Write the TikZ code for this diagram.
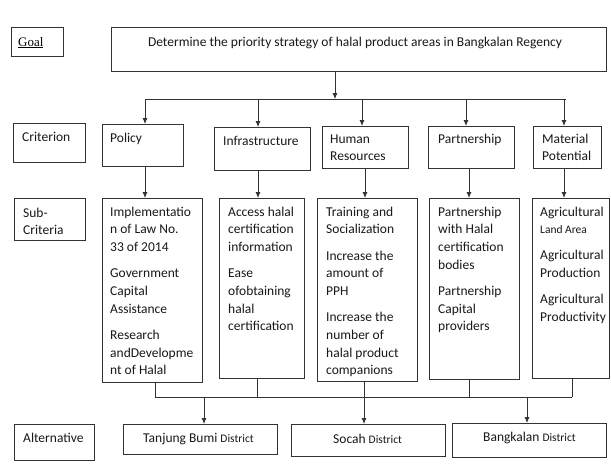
\documentclass[tikz,border=0pt]{standalone}
\usepackage{fontspec}
\setmainfont{Carlito}
\newfontfamily\goalfont{Liberation Serif}
\usetikzlibrary{arrows.meta,calc}
\newcommand{\smallpart}[1]{{\fontsize{11.5}{17.7}\selectfont #1}}
\tikzset{
  box/.style={draw=black!80, line width=0.8pt, anchor=north west, inner sep=0pt},
  txt/.style={anchor=north west, inner sep=0pt, align=left, font=\fontsize{13.5}{17.7}\selectfont, text=black!90},
  ltxt/.style={anchor=base west, inner sep=0pt, font=\fontsize{13.5}{17.7}\selectfont, text=black!90},
  link/.style={draw=black!80, line width=0.8pt},
  arr/.style={link, -{Latex[length=6pt,width=5pt]}},
}
\begin{document}
\begin{tikzpicture}[x=1pt,y=-1pt]
\useasboundingbox[fill=white] (0,0) rectangle (611,472);

% ---- boxes ----
\node[box, minimum width=52pt, minimum height=29pt] (goalL) at (11,27) {};
\node[box, minimum width=495pt, minimum height=44pt] (goal) at (111,27) {};
\node[box, minimum width=72pt, minimum height=39pt] (critL) at (13,123) {};
\node[box, minimum width=81pt, minimum height=42pt] (pol) at (102,124) {};
\node[box, minimum width=96pt, minimum height=43pt] (inf) at (214,127) {};
\node[box, minimum width=86pt, minimum height=42pt] (hr) at (322,126) {};
\node[box, minimum width=86pt, minimum height=42pt] (par) at (428,126) {};
\node[box, minimum width=68pt, minimum height=42pt] (mp) at (533,126) {};
\node[box, minimum width=71pt, minimum height=42pt] (subL) at (14,198) {};
\node[box, minimum width=100pt, minimum height=184pt] (polS) at (102,198) {};
\node[box, minimum width=85pt, minimum height=180pt] (infS) at (219,198) {};
\node[box, minimum width=100pt, minimum height=183pt] (hrS) at (317,198) {};
\node[box, minimum width=90pt, minimum height=181pt] (parS) at (429,198) {};
\node[box, minimum width=77pt, minimum height=180pt] (mpS) at (532,198) {};
\node[box, minimum width=80pt, minimum height=36pt] (altL) at (14,424) {};
\node[box, minimum width=154pt, minimum height=30pt] (tb) at (123,424) {};
\node[box, minimum width=154pt, minimum height=32pt] (so) at (291,424) {};
\node[box, minimum width=154pt, minimum height=34pt] (bk) at (452,423) {};

% ---- texts ----
\node[anchor=base west, inner sep=0pt, font=\goalfont\fontsize{13}{16}\selectfont] (goalLT) at (18,46) {\underline{Goal}};
\node[anchor=base, inner sep=0pt, font=\fontsize{13.5}{17.7}\selectfont, text=black!90] (goalT) at (355,46) {Determine the priority strategy of halal product areas in Bangkalan Regency};
\node[ltxt] (critLT) at (22,141) {Criterion};
\node[ltxt] (polT) at (110,142) {Policy};
\node[ltxt] (infT) at (223,145) {Infrastructure};
\node[txt] (hrT) at (330,130.6) {\strut Human\\Resources};
\node[ltxt] (parT) at (438,143) {Partnership};
\node[txt] (mpT) at (542,130.6) {\strut Material\\Potential};
\node[txt] (subLT) at (23,204.6) {\strut Sub-\\Criteria};
\node[txt] (polST) at (110,203.6) {\strut Implementatio\\n of Law No.\\33 of 2014\\[8.5pt]Government\\Capital\\Assistance\\[8.5pt]Research\\andDevelopme\\nt of Halal};
\node[txt] (infST) at (228,203.6) {\strut Access halal\\certification\\information\\[8.5pt]Ease\\ofobtaining\\halal\\certification};
\begin{scope}
\clip (hrS.north west) rectangle ($(hrS.south east)+(0,-3)$);
\node[txt] (hrST) at (326,203.6) {\strut Training and\\Socialization\\[8.5pt]Increase the\\amount of\\PPH\\[8.5pt]Increase the\\number of\\halal product\\companions};
\end{scope}
\node[txt] (parST) at (438,203.6) {\strut Partnership\\with Halal\\certification\\bodies\\[8.5pt]Partnership\\Capital\\providers};
\node[txt] (mpST) at (540,203.6) {\strut Agricultural\\\smallpart{Land Area}\\[8pt]Agricultural\\Production\\[8.5pt]Agricultural\\Productivity};
\node[ltxt] (altLT) at (23,442) {Alternative};
\node[ltxt] (tbT) at (143,442) {Tanjung Bumi \smallpart{District}};
\node[ltxt] (soT) at (333,443) {Socah \smallpart{District}};
\node[ltxt] (bkT) at (483,441) {Bangkalan \smallpart{District}};

% ---- connectors: goal to criteria ----
\coordinate (gb) at (335,99);
\coordinate (bl) at (145,99);
\coordinate (br) at (566,99);
\draw[arr] (goal.south -| gb) -- (gb);
\draw[link] (bl) -- (br);
\coordinate (c1) at (145,99);
\coordinate (c2) at (258,99);
\coordinate (c3) at (362,99);
\coordinate (c4) at (466,99);
\coordinate (c5) at (564,99);
\draw[arr] (c1) -- (c1 |- pol.north);
\draw[arr] (c2) -- (c2 |- inf.north);
\draw[arr] (c3) -- (c3 |- hr.north);
\draw[arr] (c4) -- (c4 |- par.north);
\draw[arr] (c5) -- (c5 |- mp.north);

% ---- criteria to sub-criteria ----
\coordinate (m1) at (145,0);
\coordinate (m2) at (258,0);
\coordinate (m3) at (365,0);
\coordinate (m4) at (469,0);
\coordinate (m5) at (564,0);
\draw[arr] (m1 |- pol.south) -- (m1 |- polS.north);
\draw[arr] (m2 |- inf.south) -- (m2 |- infS.north);
\draw[arr] (m3 |- hr.south) -- (m3 |- hrS.north);
\draw[arr] (m4 |- par.south) -- (m4 |- parS.north);
\draw[arr] (m5 |- mp.south) -- (m5 |- mpS.north);

% ---- sub-criteria to alternatives ----
\coordinate (b1) at (155,397);
\coordinate (b2) at (257,397);
\coordinate (b3) at (364,397);
\coordinate (b4) at (469,397);
\coordinate (b5) at (572,397);
\draw[link] (b1 |- polS.south) -- (b1);
\draw[link] (b2 |- infS.south) -- (b2);
\draw[link] (b3 |- hrS.south) -- (b3);
\draw[link] (b4 |- parS.south) -- (b4);
\draw[link] (b5 |- mpS.south) -- (b5);
\draw[link] (b1) -- (b5);
\coordinate (a1) at (204,397);
\coordinate (a3) at (527,397);
\draw[arr] (a1) -- (a1 |- tb.north);
\draw[arr] (b3) -- (b3 |- so.north);
\draw[arr] (a3) -- (a3 |- bk.north);
\end{tikzpicture}
\end{document}
